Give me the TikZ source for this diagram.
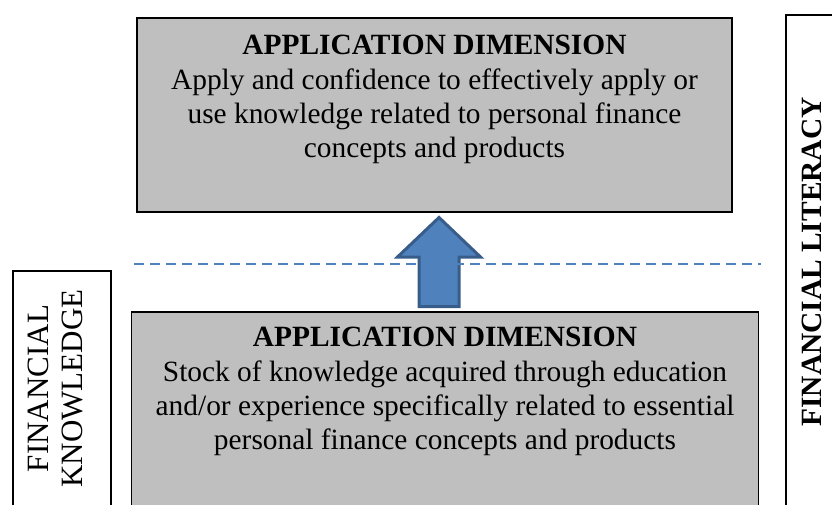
\documentclass[tikz,border=0pt]{standalone}
\usepackage{fontspec}
\setmainfont{Liberation Serif}
\definecolor{boxgray}{RGB}{191,191,191}
\definecolor{arrowfill}{RGB}{79,129,189}
\definecolor{arrowline}{RGB}{56,93,138}
\begin{document}
\begin{tikzpicture}[x=1pt,y=-1pt,
  graybox/.style={draw=black,line width=1.5pt,fill=boxgray,inner sep=0pt,outer sep=0pt},
  whitebox/.style={draw=black,line width=1.5pt,fill=white,inner sep=0pt,outer sep=0pt},
  boxtext/.style={align=center,inner sep=0pt,font=\fontsize{29.4}{34.2}\selectfont},
  sidetext/.style={align=center,inner sep=0pt,rotate=90,font=\fontsize{31}{34}\selectfont},
  dashline/.style={draw=arrowfill,line width=2pt,dash pattern=on 10pt off 6pt},
  blockarrow/.style={draw=arrowline,fill=arrowfill,line width=3pt,line join=miter}]
\useasboundingbox (0,0) rectangle (832,505);
\clip (0,0) rectangle (832,505);
% boxes
\node[graybox,minimum width=595pt,minimum height=194pt] (top) at (434.5,115) {};
\node[graybox,minimum width=627pt,minimum height=220pt] (bottom) at (445,422) {};
\node[whitebox,minimum width=98pt,minimum height=260pt] (left) at (62,401) {};
\node[whitebox,minimum width=100pt,minimum height=520pt] (right) at (836,275) {};
% texts
\node[boxtext,anchor=north] (toptext) at (434.5,35.3)
  {\textbf{APPLICATION DIMENSION}\\Apply and confidence to effectively apply or\\use knowledge related to personal finance\\concepts and products};
\node[boxtext,anchor=north] (bottomtext) at (445,327.3)
  {\textbf{APPLICATION DIMENSION}\\Stock of knowledge acquired through education\\and/or experience specifically related to essential\\personal finance concepts and products};
\node[sidetext] (lefttext) at (55,388.5) {FINANCIAL\\KNOWLEDGE};
\node[sidetext,font=\fontsize{29.4}{34}\selectfont\bfseries] (righttext) at (812,262) {FINANCIAL LITERACY};
% block arrow
\coordinate (tip) at (439,217.5);
\coordinate (hr) at (480.5,257);
\coordinate (sr) at (459,257);
\coordinate (br) at (459,306.5);
\coordinate (bl) at (419,306.5);
\coordinate (sl) at (419,257);
\coordinate (hl) at (397.5,257);
\draw[blockarrow] (tip) -- (hr) -- (sr) -- (br) -- (bl) -- (sl) -- (hl) -- cycle;
% dashed line
\coordinate (dl) at (134,264);
\coordinate (dr) at (761,264);
\draw[dashline] (dl) -- (dr);
\end{tikzpicture}
\end{document}
